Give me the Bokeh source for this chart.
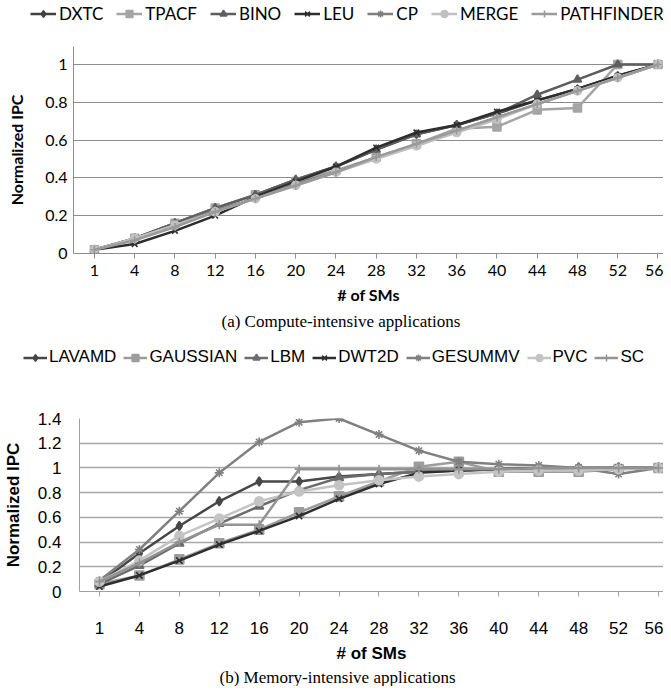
from bokeh.plotting import figure
from bokeh.models import Legend, LegendItem, FixedTicker, Title, Range1d
from bokeh.layouts import column
from bokeh.embed import file_html
from bokeh.resources import INLINE

# ---------------- data ----------------
sms = ["1", "4", "8", "12", "16", "20", "24", "28", "32", "36", "40", "44", "48", "52", "56"]

compute_names = ["DXTC", "TPACF", "BINO", "LEU", "CP", "MERGE", "PATHFINDER"]
dxtc       = [0.02, 0.08, 0.16, 0.24, 0.31, 0.39, 0.46, 0.55, 0.63, 0.68, 0.74, 0.81, 0.87, 0.94, 1.00]
tpacf      = [0.02, 0.08, 0.16, 0.24, 0.31, 0.38, 0.44, 0.51, 0.58, 0.66, 0.67, 0.76, 0.77, 1.00, 1.00]
bino       = [0.02, 0.08, 0.16, 0.24, 0.31, 0.39, 0.46, 0.55, 0.63, 0.68, 0.74, 0.84, 0.92, 1.00, 1.00]
leu        = [0.02, 0.05, 0.12, 0.20, 0.30, 0.38, 0.46, 0.56, 0.64, 0.68, 0.75, 0.81, 0.87, 0.94, 1.00]
cp         = [0.02, 0.08, 0.15, 0.23, 0.29, 0.37, 0.43, 0.51, 0.57, 0.65, 0.72, 0.79, 0.86, 0.93, 1.00]
merge      = [0.02, 0.08, 0.15, 0.22, 0.29, 0.36, 0.43, 0.50, 0.57, 0.64, 0.71, 0.79, 0.86, 0.93, 1.00]
pathfinder = [0.02, 0.07, 0.14, 0.22, 0.29, 0.36, 0.43, 0.51, 0.58, 0.65, 0.72, 0.79, 0.86, 0.93, 1.00]

memory_names = ["LAVAMD", "GAUSSIAN", "LBM", "DWT2D", "GESUMMV", "PVC", "SC"]
lavamd   = [0.07, 0.31, 0.53, 0.73, 0.89, 0.89, 0.93, 0.95, 0.97, 0.98, 0.99, 1.00, 1.00, 1.00, 1.00]
gaussian = [0.06, 0.13, 0.26, 0.39, 0.50, 0.64, 0.77, 0.89, 1.01, 1.05, 0.97, 0.97, 0.97, 0.99, 1.00]
lbm      = [0.06, 0.21, 0.39, 0.55, 0.69, 0.82, 0.92, 0.95, 0.97, 0.98, 0.99, 0.99, 1.00, 1.00, 1.00]
dwt2d    = [0.04, 0.13, 0.25, 0.38, 0.49, 0.61, 0.75, 0.87, 0.96, 0.98, 0.99, 1.00, 1.00, 1.00, 1.00]
gesummv  = [0.09, 0.34, 0.65, 0.96, 1.21, 1.37, 1.40, 1.27, 1.14, 1.05, 1.03, 1.02, 1.00, 0.95, 1.00]
pvc      = [0.08, 0.25, 0.45, 0.59, 0.73, 0.81, 0.86, 0.90, 0.93, 0.95, 0.97, 0.98, 0.98, 0.99, 1.00]
sc       = [0.08, 0.23, 0.40, 0.54, 0.54, 0.99, 0.99, 0.99, 0.99, 0.99, 0.99, 1.00, 1.00, 1.00, 1.00]

compute_ticks = [0, 0.2, 0.4, 0.6, 0.8, 1.0]
compute_tick_labels = ["0", "0.2", "0.4", "0.6", "0.8", "1"]
memory_ticks = [0, 0.2, 0.4, 0.6, 0.8, 1.0, 1.2, 1.4]
memory_tick_labels = ["0", "0.2", "0.4", "0.6", "0.8", "1", "1.2", "1.4"]

# ---------------- styles ----------------
compute_colors = ["#404040", "#a5a5a5", "#5e5e5e", "#2e2e2e", "#7f7f7f", "#c0c0c0", "#9a9a9a"]
memory_colors = ["#474747", "#9c9c9c", "#6c6c6c", "#2e2e2e", "#808080", "#c4c4c4", "#939393"]
markers = ["diamond", "square", "triangle", "x", "asterisk", "circle", "cross"]
NAN = float("nan")


def legend_fig(names, colors, *, height, font, fsize, loc, lw, msize, spacing, gw, standoff):
    lf = figure(width=663, height=height, output_backend="svg", toolbar_location=None,
                x_range=Range1d(0, 1), y_range=Range1d(0, 1),
                x_axis_location=None, y_axis_location=None, frame_align=False,
                min_border_top=0, min_border_bottom=0, min_border_left=0,
                min_border_right=0)
    lf.outline_line_color = None
    lf.xgrid.visible = False
    lf.ygrid.visible = False
    items = []
    for name, c, m in zip(names, colors, markers):
        # legend-only renderers (one NaN point, nothing is drawn in the plot area)
        r1 = lf.line(x=[NAN], y=[NAN], line_color=c, line_width=lw)
        r2 = lf.scatter(x=[NAN], y=[NAN], marker=m, size=msize, fill_color=c,
                        line_color=c, line_width=1.5)
        items.append(LegendItem(label=name, renderers=[r1, r2]))
    legend = Legend(items=items, orientation="horizontal", location=loc,
                    glyph_width=gw, glyph_height=17, label_height=14,
                    label_standoff=standoff, spacing=spacing, padding=0, margin=0,
                    border_line_color=None, background_fill_alpha=0,
                    label_text_font=font, label_text_font_size=fsize,
                    label_text_color="#000000")
    lf.add_layout(legend, "center")
    return lf


def build(series, colors, ticks, tick_labels, *, font, fsize, height, b_top,
          b_bottom, b_left, xr, ymax, tick_standoff, xlabel_standoff, ytick_standoff,
          ylabel_standoff, caption, cap_offset, cap_standoff, grid_color,
          grid_width, lw, msize, axis_color):
    p = figure(width=663, height=height, output_backend="svg", toolbar_location=None,
               x_range=Range1d(*xr), y_range=Range1d(0, ymax), frame_align=False,
               min_border_top=b_top, min_border_bottom=b_bottom,
               min_border_left=b_left, min_border_right=0)
    p.outline_line_color = None
    xs = list(range(len(sms)))
    for ys, c, m in zip(series, colors, markers):
        p.line(xs, ys, line_color=c, line_width=lw)
        p.scatter(xs, ys, marker=m, size=msize, fill_color=c, line_color=c,
                  line_width=1.6)

    xa = p.xaxis[0]
    xa.ticker = FixedTicker(ticks=xs)
    xa.major_label_overrides = {i: s for i, s in enumerate(sms)}
    xa.major_label_text_font = font
    xa.major_label_text_font_size = fsize
    xa.major_label_text_color = "#000000"
    xa.major_label_standoff = tick_standoff
    xa.major_tick_out = 5
    xa.major_tick_in = 0
    xa.minor_tick_out = 0
    xa.minor_tick_in = 0
    xa.major_tick_line_color = axis_color
    xa.axis_line_color = axis_color
    xa.axis_label = "# of SMs"
    xa.axis_label_text_font = font
    xa.axis_label_text_font_style = "bold"
    xa.axis_label_text_font_size = fsize
    xa.axis_label_text_color = "#000000"
    xa.axis_label_standoff = xlabel_standoff

    ya = p.yaxis[0]
    ya.ticker = FixedTicker(ticks=ticks)
    ya.major_label_overrides = {t: s for t, s in zip(ticks, tick_labels)}
    ya.major_label_text_font = font
    ya.major_label_text_font_size = fsize
    ya.major_label_text_color = "#000000"
    ya.major_label_standoff = ytick_standoff
    ya.major_tick_out = 0
    ya.major_tick_in = 0
    ya.minor_tick_out = 0
    ya.minor_tick_in = 0
    ya.axis_line_color = axis_color
    ya.axis_label = "Normalized IPC"
    ya.axis_label_text_font = font
    ya.axis_label_text_font_style = "bold"
    ya.axis_label_text_font_size = fsize
    ya.axis_label_text_color = "#000000"
    ya.axis_label_standoff = ylabel_standoff

    p.xgrid.visible = False
    p.ygrid.ticker = FixedTicker(ticks=ticks)
    p.ygrid.grid_line_color = grid_color
    p.ygrid.grid_line_width = grid_width

    t = Title(text=caption, align="left", offset=cap_offset, standoff=cap_standoff,
              text_font="Liberation Serif", text_font_size="17px",
              text_font_style="normal", text_color="#000000")
    p.add_layout(t, "below")
    return p


leg1 = legend_fig(compute_names, compute_colors, height=30, font="Lato", fsize="17px",
                  loc=(30, 6), lw=2.5, msize=8, spacing=13, gw=26, standoff=3)
p1 = build([dxtc, tpacf, bino, leu, cp, merge, pathfinder], compute_colors,
           compute_ticks, compute_tick_labels,
           font="Lato", fsize="16px", height=305, b_top=16, b_bottom=82, b_left=73,
           xr=(-0.52, 14.137), ymax=1.095, tick_standoff=6, xlabel_standoff=6,
           ytick_standoff=6, ylabel_standoff=16,
           caption="(a) Compute-intensive applications", cap_offset=148, cap_standoff=6,
           grid_color="#8c8c8c", grid_width=1.2, lw=2.5, msize=8, axis_color="#8c8c8c")

leg2 = legend_fig(memory_names, memory_colors, height=37, font="Liberation Sans",
                  fsize="17px", loc=(23, 5), lw=2.5, msize=9, spacing=7, gw=24, standoff=2)
p2 = build([lavamd, gaussian, lbm, dwt2d, gesummv, pvc, sc], memory_colors,
           memory_ticks, memory_tick_labels,
           font="Liberation Sans", fsize="17px", height=314, b_top=46, b_bottom=91, b_left=78,
           xr=(-0.5, 14.125), ymax=1.4, tick_standoff=25, xlabel_standoff=7,
           ytick_standoff=18, ylabel_standoff=12,
           caption="(b) Memory-intensive applications", cap_offset=140, cap_standoff=0,
           grid_color="#a8a8a8", grid_width=1.6, lw=2.5, msize=9, axis_color="#a0a0a0")

layout = column(leg1, p1, leg2, p2, spacing=0)
open("out.html", "w").write(file_html(layout, INLINE))
